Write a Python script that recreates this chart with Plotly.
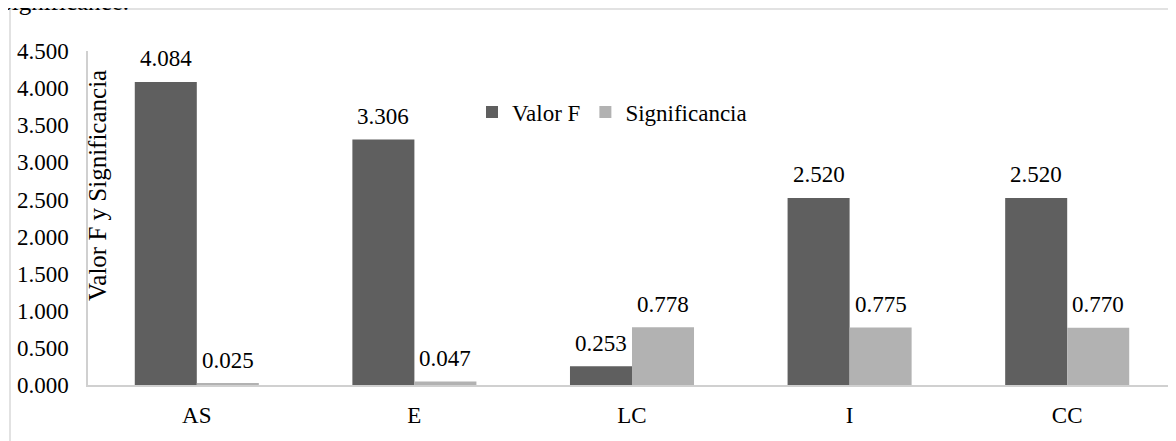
import plotly.graph_objects as go

categories = ["AS", "E", "LC", "I", "CC"]
valor_f = [4.084, 3.306, 0.253, 2.520, 2.520]
significancia = [0.025, 0.047, 0.778, 0.775, 0.770]
series_names = ["Valor F", "Significancia"]
y_title = "Valor F y Significancia"
top_text = "significance."

OFF = 8  # page body margin
W, H = 1176 - OFF, 441 - OFF
ML, MR, MT = 88 - OFF, 0, 51 - OFF
MB = H - (385 - OFF)
PW, PH = W - ML - MR, H - MT - MB
FONT = "Liberation Serif"
FS = 23
DARK = "#5f5f5f"
LIGHT = "#b2b2b2"

def sx(px):  # screen px -> paper x
    return (px - OFF - ML) / PW

def sy(py):  # screen px -> paper y
    return (H - MB - (py - OFF)) / PH

fig = go.Figure()
fig.add_trace(go.Bar(x=categories, y=valor_f, name=series_names[0],
                     marker=dict(color=DARK, line=dict(width=0))))
fig.add_trace(go.Bar(x=categories, y=significancia, name=series_names[1],
                     marker=dict(color=LIGHT, line=dict(width=0))))

bargap = 0.43
cat_px = PW / len(categories)
bar_px = cat_px * (1 - bargap) / 2

annotations = []
for series, sign in ((valor_f, -1), (significancia, 1)):
    for c, v in zip(categories, series):
        annotations.append(dict(x=c, y=v, xref="x", yref="y", text=f"{v:.3f}",
                                showarrow=False, xshift=sign * bar_px / 2,
                                yanchor="middle", yshift=23,
                                font=dict(family=FONT, size=FS, color="black")))

annotations.append(dict(x=sx(97), y=sy(186), xref="paper", yref="paper",
                        text=y_title, textangle=-90, showarrow=False,
                        xanchor="center", yanchor="middle",
                        font=dict(family=FONT, size=25, color="black")))
annotations.append(dict(x=sx(0), y=sy(1), xref="paper", yref="paper",
                        text=top_text, showarrow=False, xanchor="left", yanchor="middle",
                        font=dict(family=FONT, size=25, color="black")))

fig.update_layout(
    width=W, height=H,
    margin=dict(l=ML, r=MR, t=MT, b=MB, autoexpand=False),
    paper_bgcolor="white", plot_bgcolor="white",
    barmode="group", bargap=bargap, bargroupgap=0,
    font=dict(family=FONT, size=FS, color="black"),
    legend=dict(orientation="h", x=sx(612), y=sy(112),
                xanchor="center", yanchor="middle", bgcolor="rgba(0,0,0,0)",
                font=dict(family=FONT, size=FS, color="black"),
                itemwidth=30, traceorder="normal"),
    annotations=annotations,
    shapes=[dict(type="rect", xref="paper", yref="paper",
                 x0=sx(10), x1=sx(1190),
                 y0=sy(460), y1=sy(9),
                 line=dict(color="#d9d9d9", width=1.5), fillcolor="rgba(0,0,0,0)",
                 layer="below")],
)
fig.update_xaxes(showgrid=False, showline=True, linecolor="#d0d0d0", linewidth=2,
                 ticks="", ticklabelstandoff=8, automargin=False,
                 tickfont=dict(family=FONT, size=FS, color="black"))
fig.update_yaxes(range=[0, 4.5], dtick=0.5, tickformat=".3f", showgrid=False,
                 showline=True, linecolor="#d0d0d0", linewidth=1.5, ticks="",
                 ticklabelstandoff=13, zeroline=False, automargin=False,
                 tickfont=dict(family=FONT, size=FS, color="black"))

fig.write_html("out.html")
